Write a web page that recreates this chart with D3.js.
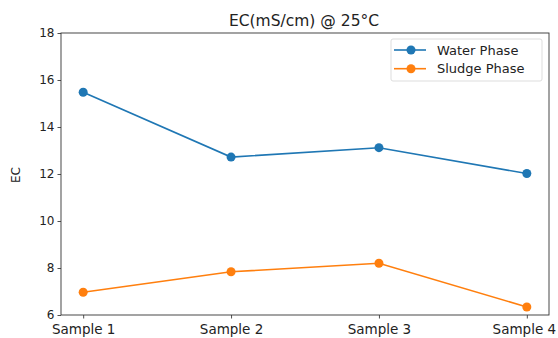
<!DOCTYPE html>
<html>
<head>
<meta charset="utf-8">
<script src="https://cdn.jsdelivr.net/npm/d3@7"></script>
<style>
  body { margin: 0; background: #fff; }
  svg { font-family: "DejaVu Sans", sans-serif; }
</style>
</head>
<body>
<svg id="chart" width="558" height="338"></svg>
<script>
/*
 * Data
 */
var SAMPLES = ['Sample 1', 'Sample 2', 'Sample 3', 'Sample 4'],
    WATER_PHASE = [15.48, 12.72, 13.12, 12.02],
    SLUDGE_PHASE = [6.97, 7.84, 8.2, 6.34],
    Y_TICKS = [6, 8, 10, 12, 14, 16, 18];

var SERIES_NAMES = ['Water Phase', 'Sludge Phase'],
    SERIES_COLORS = ['#1f77b4', '#ff7f0e'];

/*
 * Layout
 */
var LEFT = 61, RIGHT = 549, TOP = 33, BOTTOM = 315;

var svg = d3.select('#chart');

var x = d3.scalePoint()
    .domain(SAMPLES)
    .range([LEFT, RIGHT])
    .padding(0.15);

var y = d3.scaleLinear()
    .domain([6, 18])
    .range([BOTTOM, TOP]);

// axes
var xAxis = svg.append('g')
    .attr('transform', 'translate(0,' + BOTTOM + ')')
    .call(d3.axisBottom(x).tickSize(3.5).tickPadding(6));

var yAxis = svg.append('g')
    .attr('transform', 'translate(' + LEFT + ',0)')
    .call(d3.axisLeft(y).tickValues(Y_TICKS).tickSize(3.5).tickPadding(3));

[xAxis, yAxis].forEach(function (a) {
    a.select('.domain').remove();
    a.selectAll('line').attr('stroke', '#222').attr('stroke-width', 0.8);
    a.selectAll('text')
        .attr('fill', '#222')
        .style('font-family', '"DejaVu Sans", sans-serif');
});
xAxis.selectAll('text').style('font-size', '13.5px');
yAxis.selectAll('text').style('font-size', '12px');
// last label sits tight against the right edge
xAxis.selectAll('text').filter(function (d) { return d === 'Sample 4'; })
    .attr('dx', -3);

// frame
svg.append('rect')
    .attr('x', LEFT)
    .attr('y', TOP)
    .attr('width', RIGHT - LEFT)
    .attr('height', BOTTOM - TOP)
    .attr('fill', 'none')
    .attr('stroke', '#333')
    .attr('stroke-width', 0.9);

// title + y label
svg.append('text')
    .attr('x', 304)
    .attr('y', 26)
    .attr('text-anchor', 'middle')
    .attr('fill', '#222')
    .style('font-size', '15.5px')
    .text('EC(mS/cm) @ 25°C');

svg.append('text')
    .attr('transform', 'translate(20,175) rotate(-90)')
    .attr('text-anchor', 'middle')
    .attr('fill', '#222')
    .style('font-size', '12px')
    .text('EC');

// lines
var line = d3.line()
    .x(function (d, i) { return x(SAMPLES[i]); })
    .y(function (d) { return y(d); });

[WATER_PHASE, SLUDGE_PHASE].forEach(function (values, k) {
    var g = svg.append('g');
    g.append('path')
        .datum(values)
        .attr('d', line)
        .attr('fill', 'none')
        .attr('stroke', SERIES_COLORS[k])
        .attr('stroke-width', 1.6);
    g.selectAll('circle')
        .data(values)
        .enter()
        .append('circle')
        .attr('cx', function (d, i) { return x(SAMPLES[i]); })
        .attr('cy', function (d) { return y(d); })
        .attr('r', 4.5)
        .attr('fill', SERIES_COLORS[k]);
});

// legend
var legend = svg.append('g').attr('transform', 'translate(391,39)');
legend.append('rect')
    .attr('width', 151)
    .attr('height', 42)
    .attr('rx', 2)
    .attr('fill', '#fff')
    .attr('fill-opacity', 0.8)
    .attr('stroke', '#ddd');

SERIES_NAMES.forEach(function (name, k) {
    var row = legend.append('g').attr('transform', 'translate(0,' + (11 + k * 18.7) + ')');
    row.append('line')
        .attr('x1', 3).attr('x2', 35)
        .attr('stroke', SERIES_COLORS[k])
        .attr('stroke-width', 1.6);
    row.append('circle')
        .attr('cx', 20)
        .attr('r', 4.5)
        .attr('fill', SERIES_COLORS[k]);
    row.append('text')
        .attr('x', 46)
        .attr('dy', '0.35em')
        .attr('fill', '#222')
        .style('font-size', '13px')
        .text(name);
});
</script>
</body>
</html>
